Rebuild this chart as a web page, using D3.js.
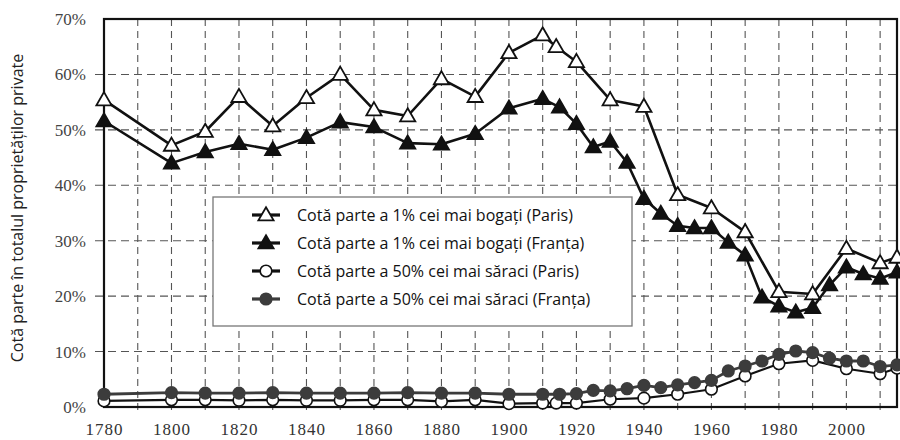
<!DOCTYPE html>
<html>
<head>
<meta charset="utf-8">
<script src="https://cdn.jsdelivr.net/npm/d3@7"></script>
<style>
  body { margin: 0; background: #fff; }
  svg text.serif { font-family: "Liberation Serif", "Times New Roman", serif; }
</style>
</head>
<body>
<div class="chart"></div>
<script>
var svgWidth = 900;
var svgHeight = 440;

// Data
var parisYears = [1780, 1800, 1810, 1820, 1830, 1840, 1850, 1860, 1870, 1880, 1890, 1900, 1910, 1914, 1920,
  1930, 1940, 1950, 1960, 1970, 1980, 1990, 2000, 2010, 2015];
var parisTop = [55.4, 47.2, 49.7, 56.0, 50.7, 55.8, 60.0, 53.6, 52.5, 59.2, 56.0, 63.9, 67.1, 65.0, 62.3,
  55.4, 54.2, 38.3, 35.9, 31.6, 20.8, 20.4, 28.6, 26.0, 27.0];
var parisBottom = [1.1, 1.3, 1.3, 1.2, 1.3, 1.2, 1.2, 1.3, 1.3, 1.0, 1.3, 0.6, 0.7, 0.7, 0.7,
  1.4, 1.6, 2.3, 3.2, 5.6, 7.8, 8.4, 6.9, 6.0, 7.0];

var franceYears = [1780, 1800, 1810, 1820, 1830, 1840, 1850, 1860, 1870, 1880, 1890, 1900, 1910, 1915, 1920,
  1925, 1930, 1935, 1940, 1945, 1950, 1955, 1960, 1965, 1970, 1975, 1980, 1985, 1990, 1995, 2000, 2005, 2010, 2015];
var franceTop = [51.6, 44.0, 46.0, 47.5, 46.4, 48.6, 51.4, 50.5, 47.6, 47.4, 49.3, 53.9, 55.6, 54.1, 51.1,
  46.9, 47.9, 44.1, 37.6, 34.9, 32.7, 32.3, 32.3, 29.7, 27.4, 19.8, 18.2, 17.1, 17.9, 22.0, 25.2, 24.0, 23.2, 24.3];
var franceBottom = [2.3, 2.6, 2.5, 2.5, 2.6, 2.5, 2.5, 2.5, 2.6, 2.5, 2.5, 2.3, 2.3, 2.3, 2.4,
  3.0, 2.9, 3.3, 3.9, 3.5, 4.0, 4.4, 4.8, 6.5, 7.4, 8.3, 9.5, 10.1, 9.8, 8.8, 8.3, 8.3, 7.3, 7.6];

var xTicks = [1780, 1800, 1820, 1840, 1860, 1880, 1900, 1920, 1940, 1960, 1980, 2000];
var yTicks = [0, 10, 20, 30, 40, 50, 60, 70];
var legendLabels = [
  "Cotă parte a 1% cei mai bogați (Paris)",
  "Cotă parte a 1% cei mai bogați (Franța)",
  "Cotă parte a 50% cei mai săraci (Paris)",
  "Cotă parte a 50% cei mai săraci (Franța)"
];

var svg = d3.select(".chart")
  .append("svg")
  .attr("width", svgWidth)
  .attr("height", svgHeight);

var x = d3.scaleLinear().domain([1780, 2015]).range([104, 897]);
var y = d3.scaleLinear().domain([0, 70]).range([407, 19]);

// grid: vertical every decade, horizontal every 10%
var decades = d3.range(1790, 2011, 10);
svg.append("g").selectAll("line")
  .data(decades)
  .enter().append("line")
  .attr("x1", d => x(d)).attr("x2", d => x(d))
  .attr("y1", y(70)).attr("y2", y(0) + 7)
  .attr("stroke", "#555").attr("stroke-width", 1.1)
  .attr("stroke-dasharray", "7,5");

svg.append("g").selectAll("line")
  .data(yTicks.slice(1, -1))
  .enter().append("line")
  .attr("x1", x(1780) - 9).attr("x2", x(2015))
  .attr("y1", d => y(d)).attr("y2", d => y(d))
  .attr("stroke", "#555").attr("stroke-width", 1.1)
  .attr("stroke-dasharray", "8,5");

// axes
var bottomAxis = d3.axisBottom(x).tickValues(xTicks).tickFormat(d3.format("d")).tickSize(0).tickPadding(16);
var leftAxis = d3.axisLeft(y).tickValues(yTicks).tickFormat(d => d + "%").tickSize(0).tickPadding(18);

var gx = svg.append("g").attr("transform", `translate(0, ${y(0)})`).call(bottomAxis);
gx.attr("font-family", null).attr("font-size", null);
gx.select(".domain").remove();
gx.selectAll("text")
  .attr("class", "serif")
  .attr("font-size", 17).attr("fill", "#333").attr("letter-spacing", 1);

var gy = svg.append("g").attr("transform", `translate(${x(1780)}, 0)`).call(leftAxis);
gy.attr("font-family", null).attr("font-size", null);
gy.select(".domain").remove();
gy.selectAll("text")
  .attr("class", "serif")
  .attr("font-size", 17).attr("fill", "#444");

// frame
svg.append("rect")
  .attr("x", x(1780)).attr("y", y(70))
  .attr("width", x(2015) - x(1780)).attr("height", y(0) - y(70))
  .attr("fill", "none").attr("stroke", "#111").attr("stroke-width", 2.2);

// y axis title
svg.append("text")
  .attr("transform", "rotate(-90)")
  .attr("x", -208)
  .attr("y", 23)
  .attr("text-anchor", "middle")
  .attr("font-family", "Open Sans, sans-serif")
  .attr("font-size", 16)
  .attr("fill", "#222")
  .text("Cotă parte în totalul proprietăților private");

// legend box
svg.append("rect")
  .attr("x", 213).attr("y", 197).attr("width", 419).attr("height", 129)
  .attr("fill", "#fff").attr("stroke", "#777").attr("stroke-width", 1.3);

var tri = d3.symbol().type(d3.symbolTriangle).size(100);

var series = [
  { years: parisTop.map((v, i) => [parisYears[i], v]), kind: "tri", fill: "#fff", line: "#111", w: 2.6 },
  { years: franceTop.map((v, i) => [franceYears[i], v]), kind: "tri", fill: "#111", line: "#111", w: 2.6 },
  { years: parisBottom.map((v, i) => [parisYears[i], v]), kind: "circ", fill: "#fff", line: "#111", w: 2.2 },
  { years: franceBottom.map((v, i) => [franceYears[i], v]), kind: "circ", fill: "#3c3c3c", line: "#3c3c3c", w: 2.8 }
];

var line = d3.line().x(d => x(d[0])).y(d => y(d[1]));

function drawMarker(g, s, cx, cy) {
  if (s.kind == "tri") {
    g.append("path")
      .attr("d", tri)
      .attr("transform", `translate(${cx}, ${cy + 1})`)
      .attr("fill", s.fill).attr("stroke", "#111").attr("stroke-width", 1.8);
  } else {
    g.append("circle")
      .attr("cx", cx).attr("cy", cy).attr("r", 5.8)
      .attr("fill", s.fill).attr("stroke", s.fill == "#fff" ? "#111" : s.line)
      .attr("stroke-width", 1.6);
  }
}

// draw bottom series first, France over Paris
[2, 3, 0, 1].forEach(function (k) {
  var s = series[k];
  var g = svg.append("g");
  g.append("path")
    .datum(s.years)
    .attr("d", line)
    .attr("fill", "none")
    .attr("stroke", s.line)
    .attr("stroke-width", s.w)
    .attr("stroke-linejoin", "round");
  s.years.forEach(d => drawMarker(g, s, x(d[0]), y(d[1])));
});

// legend entries
var legY = [215, 243, 271, 299];
series.forEach(function (s, i) {
  var g = svg.append("g");
  g.append("line")
    .attr("x1", 252).attr("x2", 280)
    .attr("y1", legY[i]).attr("y2", legY[i])
    .attr("stroke", s.line).attr("stroke-width", 3.2);
  drawMarker(g, s, 266, legY[i]);
  g.append("text")
    .attr("x", 297)
    .attr("y", legY[i])
    .attr("dy", "0.35em")
    .attr("font-family", "Open Sans, sans-serif")
    .attr("font-size", 16)
    .attr("fill", "#111")
    .text(legendLabels[i]);
});
</script>
</body>
</html>
